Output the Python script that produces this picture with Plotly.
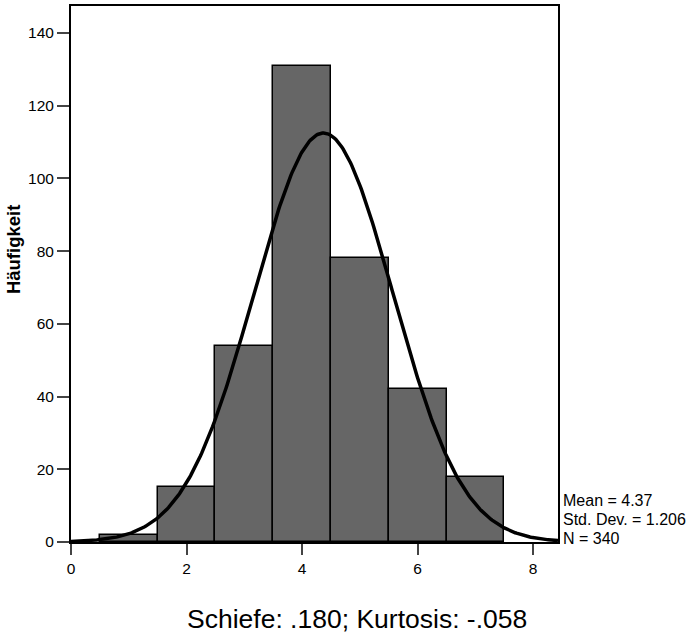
import numpy as np
import plotly.graph_objects as go

bin_centers = [1, 2, 3, 4, 5, 6, 7]
counts = [2, 15, 54, 131, 78, 42, 18]
mean_val = 4.37
std_val = 1.206
n_val = 340
bin_width = 1.0
x_ticks = [0, 2, 4, 6, 8]
y_ticks = [0, 20, 40, 60, 80, 100, 120, 140]
stats_lines = [f"Mean = {mean_val}", f"Std. Dev. = {std_val}", f"N = {n_val}"]
footer = "Schiefe: .180; Kurtosis: -.058"
y_title = "Häufigkeit"

x_max = 8.43
xs = np.linspace(0, x_max, 400)
ys = n_val * bin_width / (std_val * np.sqrt(2 * np.pi)) * np.exp(-0.5 * ((xs - mean_val) / std_val) ** 2)

fig = go.Figure()
fig.add_trace(go.Bar(x=bin_centers, y=counts, width=bin_width,
                     marker=dict(color="#666666", line=dict(color="black", width=1.5)),
                     showlegend=False))
fig.add_trace(go.Scatter(x=xs, y=ys, mode="lines", line=dict(color="black", width=3.5),
                         showlegend=False, cliponaxis=True))

font = "Liberation Sans, Arial, sans-serif"
L, R, T, B = 71, 558, 4, 542
W, H = 687, 635

annotations = []
for i, (txt, yc) in enumerate(zip(stats_lines, [500, 519, 538])):
    annotations.append(dict(x=1, xref="paper", xanchor="left", y=0, yref="paper", yanchor="middle",
                            xshift=3, yshift=B - yc, text=txt, showarrow=False,
                            font=dict(size=16)))
annotations.append(dict(x=(357 - L) / (R - L), xref="paper", xanchor="center",
                        y=0, yref="paper", yanchor="middle", yshift=-(619 - B),
                        text=footer, showarrow=False, font=dict(size=26.5)))
annotations.append(dict(x=0, xref="paper", xanchor="center", xshift=-(L - 13),
                        y=(B - 249) / (B - T), yref="paper", yanchor="middle",
                        text="<b>" + y_title + "</b>", textangle=-90, showarrow=False,
                        font=dict(size=18.5)))

fig.update_layout(
    width=W, height=H,
    margin=dict(l=L, r=W - R, t=T, b=H - B),
    plot_bgcolor="white", paper_bgcolor="white",
    font=dict(family=font, color="black", size=15.5),
    bargap=0,
    xaxis=dict(range=[0, x_max], tickvals=x_ticks, ticks="outside", ticklen=11, tickwidth=2,
               showline=True, linecolor="black", linewidth=2, mirror=True, showgrid=False,
               zeroline=False, tickfont=dict(size=15.5)),
    yaxis=dict(range=[0, 147.4], tickvals=y_ticks, ticks="outside", ticklen=12, tickwidth=2,
               showline=True, linecolor="black", linewidth=2, mirror=True, showgrid=False,
               zeroline=False, tickfont=dict(size=15.5)),
    annotations=annotations,
)
fig.write_html("out.html")
